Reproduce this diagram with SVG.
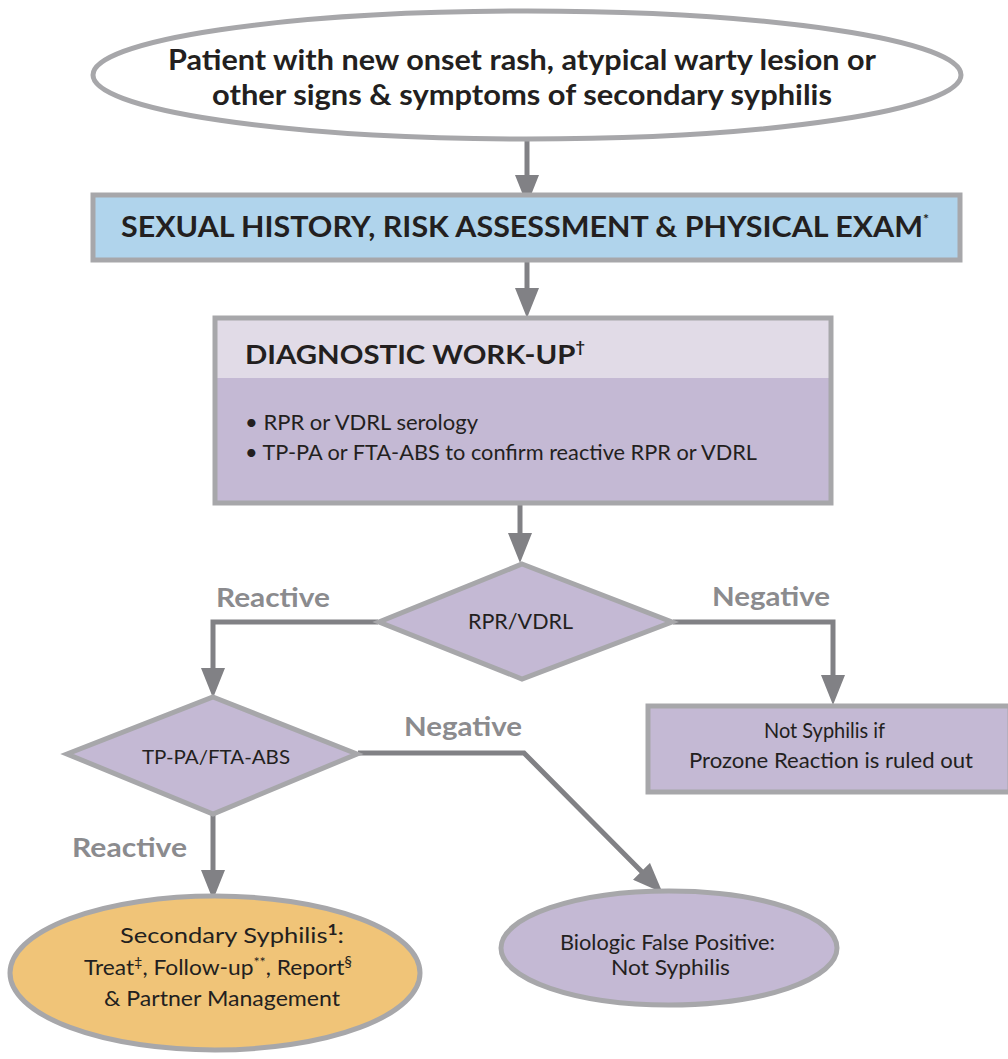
<svg xmlns="http://www.w3.org/2000/svg" width="1008" height="1059" viewBox="0 0 1008 1059">
<defs>
<marker id="ah" viewBox="0 0 30 24" markerWidth="30" markerHeight="24" refX="15" refY="12" orient="auto" markerUnits="userSpaceOnUse">
<path d="M0,0 L30,12 L0,24 z" fill="#818185"/>
</marker>
<style>
.conn{fill:none;stroke:#818185;stroke-width:5;}
.bd{stroke:#a7a7aa;stroke-width:5;}
.t{font-family:Lato,"Open Sans","Liberation Sans",sans-serif;fill:#231f20;}
.b{font-weight:bold;}
.lbl{font-family:Lato,"Open Sans","Liberation Sans",sans-serif;font-weight:bold;fill:#8b8b8e;font-size:27px;}
.c{text-anchor:middle;}
</style>
</defs>
<rect width="1008" height="1059" fill="#ffffff"/>
<g id="connectors">
<line class="conn" x1="527" y1="140" x2="527" y2="190" marker-end="url(#ah)"/>
<line class="conn" x1="527" y1="260" x2="527" y2="303" marker-end="url(#ah)"/>
<line class="conn" x1="520" y1="503" x2="520" y2="548" marker-end="url(#ah)"/>
<polyline class="conn" points="378,622 213,622 213,683" marker-end="url(#ah)"/>
<polyline class="conn" points="673,622 833,622 833,690" marker-end="url(#ah)"/>
<line class="conn" x1="213" y1="815" x2="213" y2="885" marker-end="url(#ah)"/>
<polyline class="conn" points="358,753 524,753 652,882" marker-end="url(#ah)"/>
</g>
<g id="labels">
<text class="lbl" x="216" y="607" textLength="114" lengthAdjust="spacingAndGlyphs">Reactive</text>
<text class="lbl" x="712" y="606" textLength="118" lengthAdjust="spacingAndGlyphs">Negative</text>
<text class="lbl" x="404" y="736" textLength="118" lengthAdjust="spacingAndGlyphs">Negative</text>
<text class="lbl" x="72" y="857" textLength="115" lengthAdjust="spacingAndGlyphs">Reactive</text>
</g>
<g id="start">
<ellipse cx="527" cy="75" rx="434" ry="64" fill="#ffffff" class="bd"/>
<text class="t b" x="168" y="70" font-size="29" textLength="708" lengthAdjust="spacingAndGlyphs">Patient with new onset rash, atypical warty lesion or</text>
<text class="t b" x="212" y="105" font-size="29" textLength="620" lengthAdjust="spacingAndGlyphs">other signs &amp; symptoms of secondary syphilis</text>
</g>
<g id="history">
<rect x="93" y="195" width="867" height="65" fill="#b0d4ec" class="bd"/>
<text class="t b" x="121" y="237" font-size="28" textLength="808" lengthAdjust="spacingAndGlyphs">SEXUAL HISTORY, RISK ASSESSMENT &amp; PHYSICAL EXAM<tspan font-size="13" dy="-13">*</tspan></text>
</g>
<g id="workup">
<rect x="215" y="318" width="616" height="185" fill="#c4b9d4"/>
<rect x="215" y="318" width="616" height="60" fill="#e1dbe7"/>
<rect x="215" y="318" width="616" height="185" fill="none" class="bd"/>
<text class="t b" x="245" y="364" font-size="27" textLength="340" lengthAdjust="spacingAndGlyphs">DIAGNOSTIC WORK-UP<tspan font-size="15" dy="-12">†</tspan></text>
<text class="t" x="245" y="430" font-size="21" textLength="233" lengthAdjust="spacingAndGlyphs">• RPR or VDRL serology</text>
<text class="t" x="245" y="460" font-size="21" textLength="512" lengthAdjust="spacingAndGlyphs">• TP-PA or FTA-ABS to confirm reactive RPR or VDRL</text>
</g>
<g id="rpr">
<polygon points="522,564 672,622 522,679 379,622" fill="#c4b9d4" class="bd"/>
<text class="t" x="468" y="629" font-size="21" textLength="105" lengthAdjust="spacingAndGlyphs">RPR/VDRL</text>
</g>
<g id="notsyph">
<rect x="648" y="706" width="362" height="86" fill="#c4b9d4" class="bd"/>
<text class="t" x="764" y="738" font-size="21" textLength="121" lengthAdjust="spacingAndGlyphs">Not Syphilis if</text>
<text class="t" x="689" y="768" font-size="21" textLength="284" lengthAdjust="spacingAndGlyphs">Prozone Reaction is ruled out</text>
</g>
<g id="tppa">
<polygon points="213,697 357,754 213,814 67,754" fill="#c4b9d4" class="bd"/>
<text class="t" x="142" y="764" font-size="20" textLength="148" lengthAdjust="spacingAndGlyphs">TP-PA/FTA-ABS</text>
</g>
<g id="secondary">
<ellipse cx="215" cy="973" rx="205" ry="77" fill="#f0c478" class="bd"/>
<text class="t" x="120" y="943" font-size="22" textLength="224" lengthAdjust="spacingAndGlyphs">Secondary Syphilis<tspan font-weight="bold" font-size="15" dy="-8">1</tspan><tspan dy="8">:</tspan></text>
<text class="t" x="84" y="975" font-size="22" textLength="268" lengthAdjust="spacingAndGlyphs">Treat<tspan font-size="14" dy="-8">‡</tspan><tspan dy="8">, Follow-up</tspan><tspan font-size="14" dy="-8">**</tspan><tspan dy="8">, Report</tspan><tspan font-size="15" dy="-8">§</tspan></text>
<text class="t" x="104" y="1006" font-size="22" textLength="236" lengthAdjust="spacingAndGlyphs">&amp; Partner Management</text>
</g>
<g id="biologic">
<ellipse cx="669" cy="948" rx="168" ry="57" fill="#c4b9d4" class="bd"/>
<text class="t" x="560" y="950" font-size="21" textLength="215" lengthAdjust="spacingAndGlyphs">Biologic False Positive:</text>
<text class="t" x="611" y="975" font-size="21" textLength="119" lengthAdjust="spacingAndGlyphs">Not Syphilis</text>
</g>
</svg>
